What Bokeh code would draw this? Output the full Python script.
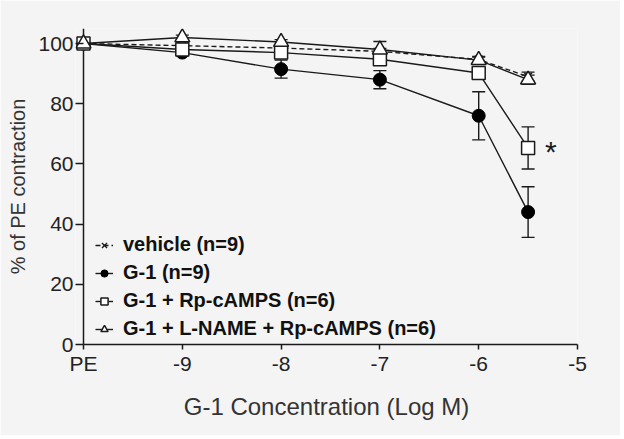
from bokeh.plotting import figure
from bokeh.models import ColumnDataSource, Whisker, TeeHead, Legend, LegendItem, FixedTicker, Range1d, Span
from bokeh.core.properties import value
from bokeh.embed import file_html
from bokeh.resources import INLINE

# data (x = log M, PE shown at -10)
x = [-10, -9, -8, -7, -6, -5.5]
vehicle = [100, 99.3, 98.5, 97.4, 94.7, 89.0]
g1 = [100, 97.0, 91.5, 88.0, 76.0, 44.0]
g1_err = [0, 1.0, 3.0, 3.0, 8.0, 8.4]
rp = [100, 98.0, 97.0, 94.8, 90.2, 65.3]
rp_err = [0, 1.0, 1.5, 1.5, 1.5, 7.0]
lname = [100, 102.0, 100.5, 98.0, 94.5, 88.0]
lname_err = [0, 0.8, 0.8, 2.7, 1.0, 1.5]
vehicle_err = [0, 0.8, 0.8, 1.0, 1.0, 1.5]

x_ticks = [-10, -9, -8, -7, -6, -5]
x_labels = ["PE", "-9", "-8", "-7", "-6", "-5"]
y_ticks = [0, 20, 40, 60, 80, 100]

FONT = "Liberation Sans"
INK = "#1a1a1a"
BG = "#f4f4f4"

p = figure(width=620, height=435, output_backend="svg", toolbar_location=None,
           x_range=Range1d(-10.081, -5), y_range=Range1d(0, 105),
           min_border_left=75, min_border_right=43, min_border_top=28, min_border_bottom=91)
p.background_fill_color = BG
p.border_fill_color = BG
p.outline_line_color = None
p.grid.grid_line_color = None

for ax in (p.xaxis[0], p.yaxis[0]):
    ax.axis_line_color = INK
    ax.axis_line_width = 1.5
    ax.major_tick_line_color = INK
    ax.major_tick_line_width = 1.5
    ax.major_tick_out = 5
    ax.major_tick_in = 0
    ax.minor_tick_line_color = None
    ax.major_label_text_font = FONT
    ax.major_label_text_font_size = "21px"
    ax.major_label_text_color = "#222222"
    ax.axis_label_text_font = FONT
    ax.axis_label_text_font_style = "normal"
    ax.axis_label_text_color = "#333333"

# y axis line sits at PE (x=-10), slightly inside the frame so PE markers are not clipped
p.yaxis.axis_line_color = None
p.yaxis.major_tick_out = 0
p.yaxis.major_tick_in = 8
p.add_layout(Span(location=-10, dimension="height", line_color=INK, line_width=1.5, level="underlay"))

p.xaxis.bounds = (-10, -5)
p.xaxis.ticker = FixedTicker(ticks=x_ticks)
p.xaxis.major_label_overrides = {t: l for t, l in zip(x_ticks, x_labels)}
p.yaxis.ticker = FixedTicker(ticks=y_ticks)
p.xaxis.axis_label = "G-1 Concentration (Log M)"
p.yaxis.axis_label = "% of PE contraction"
p.xaxis.axis_label_text_font_size = "24px"
p.yaxis.axis_label_text_font_size = "20px"
p.xaxis.major_label_standoff = 2
p.yaxis.major_label_standoff = 2
p.xaxis.axis_label_standoff = 15
p.yaxis.axis_label_standoff = 6

def add_err(vals, errs):
    xs = [a for a, e in zip(x, errs) if e > 0]
    ys = [v for v, e in zip(vals, errs) if e > 0]
    es = [e for e in errs if e > 0]
    src = ColumnDataSource(dict(x=xs, upper=[v + e for v, e in zip(ys, es)],
                                lower=[v - e for v, e in zip(ys, es)]))
    w = Whisker(source=src, base="x", upper="upper", lower="lower",
                line_color=INK, line_width=1.4, level="underlay",
                upper_head=TeeHead(size=13, line_color=INK, line_width=1.4),
                lower_head=TeeHead(size=13, line_color=INK, line_width=1.4))
    p.add_layout(w)

add_err(g1, g1_err)
add_err(rp, rp_err)
add_err(lname, lname_err)
add_err(vehicle, vehicle_err)

lw = 1.4
l_veh = p.line(x, vehicle, line_color=INK, line_width=lw, line_dash="5 3")
s_veh = p.scatter(x, vehicle, marker="x", size=11, line_color=INK, line_width=1.3)
l_g1 = p.line(x, g1, line_color=INK, line_width=lw)
s_g1 = p.scatter(x, g1, marker="circle", size=13, fill_color="black", line_color="black")
l_rp = p.line(x, rp, line_color=INK, line_width=lw)
s_rp = p.scatter(x, rp, marker="square", size=13, fill_color="white", line_color=INK, line_width=1.5)
l_ln = p.line(x, lname, line_color=INK, line_width=lw)
s_ln = p.scatter(x, lname, marker="triangle", size=15, fill_color="white", line_color=INK, line_width=1.5)

p.text(x=[-5.27], y=[64], text=["*"], text_font=value(FONT), text_font_size="30px",
       text_align="center", text_baseline="middle", text_color=INK)

legend = Legend(items=[
    LegendItem(label="vehicle (n=9)", renderers=[l_veh, s_veh]),
    LegendItem(label="G-1 (n=9)", renderers=[l_g1, s_g1]),
    LegendItem(label="G-1 + Rp-cAMPS (n=6)", renderers=[l_rp, s_rp]),
    LegendItem(label="G-1 + L-NAME + Rp-cAMPS (n=6)", renderers=[l_ln, s_ln]),
], location=(20, 4))
legend.background_fill_alpha = 0
legend.border_line_color = None
legend.label_text_font = FONT
legend.label_text_font_style = "bold"
legend.label_text_font_size = "20px"
legend.label_text_color = "#111111"
legend.glyph_width = 18
legend.glyph_height = 20
legend.label_height = 20
legend.spacing = 5
legend.padding = 6
legend.margin = 0
legend.label_standoff = 10
p.add_layout(legend, "center")

open("out.html", "w").write(file_html(p, INLINE))
